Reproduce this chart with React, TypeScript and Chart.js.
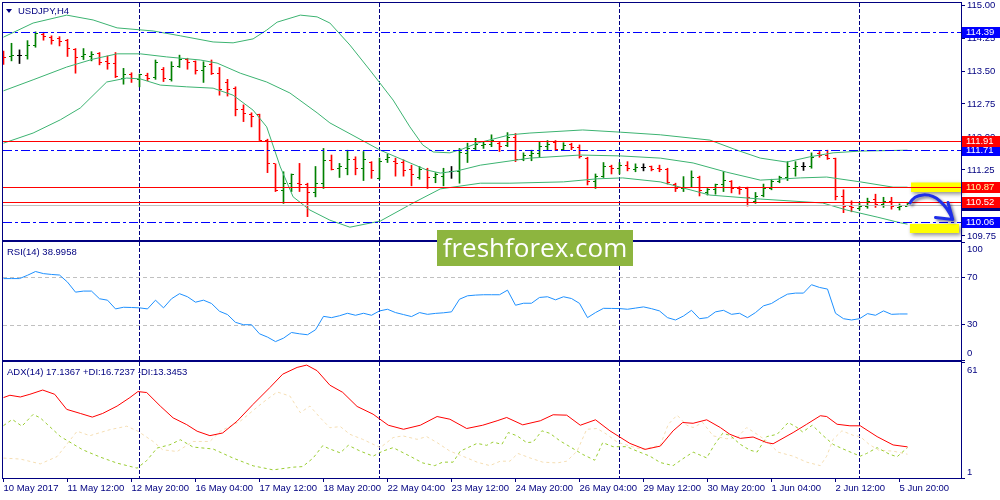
import React, { useEffect, useRef } from 'react';
import { Chart, registerables } from 'chart.js';

Chart.register(...registerables);

// ---------------- data ----------------
const opens = [
  113.83, 113.84, 113.86, 113.86, 114.07, 114.32, 114.26, 114.24, 114.2, 113.98,
  113.83, 113.84, 113.89, 113.71, 113.66, 113.33, 113.41, 113.31, 113.39, 113.36,
  113.54, 113.31, 113.6, 113.77, 113.71, 113.51, 113.64, 113.45, 113.23, 113.11,
  112.63, 112.52, 112.5, 111.93, 111.39, 110.78, 110.95, 110.95, 110.91, 110.73,
  110.95, 111.46, 111.29, 111.29, 111.49, 111.29, 111.42, 111.06, 111.48, 111.44,
  111.42, 111.25, 111.08, 111.25, 111.08, 111.11, 111.21, 111.21, 111.63, 111.74,
  111.8, 111.82, 111.86, 111.8, 111.99, 111.49, 111.59, 111.63, 111.78, 111.87,
  111.72, 111.82, 111.77, 111.52, 110.99, 111.11, 111.34, 111.29, 111.36, 111.27,
  111.31, 111.33, 111.29, 111.25, 110.93, 110.83, 110.86, 111.08, 110.74, 110.81,
  110.91, 110.99, 110.83, 110.83, 110.53, 110.68, 110.83, 110.99, 111.08, 111.29,
  111.33, 111.33, 111.63, 111.57, 111.52, 110.64, 110.43, 110.38, 110.43, 110.57,
  110.46, 110.53, 110.4, 110.43,
];
const highs = [
  113.95, 114.13, 113.98, 114.19, 114.39, 114.38, 114.3, 114.28, 114.22, 114.01,
  114.01, 113.94, 113.92, 113.84, 113.92, 113.56, 113.46, 113.43, 113.45, 113.75,
  113.58, 113.71, 113.86, 113.79, 113.73, 113.71, 113.75, 113.58, 113.31, 113.14,
  112.73, 112.55, 112.52, 111.95, 111.39, 111.21, 111.16, 111.4, 110.95, 111.33,
  111.74, 111.59, 111.4, 111.7, 111.55, 111.67, 111.44, 111.52, 111.61, 111.52,
  111.48, 111.36, 111.33, 111.29, 111.19, 111.29, 111.33, 111.74, 111.86, 111.97,
  111.89, 112.05, 111.89, 112.1, 112.08, 111.64, 111.7, 111.89, 111.92, 111.92,
  111.87, 111.86, 111.82, 111.54, 111.16, 111.42, 111.36, 111.42, 111.44, 111.39,
  111.39, 111.34, 111.36, 111.29, 110.95, 111.1, 111.23, 111.11, 110.83, 110.93,
  111.21, 111.01, 110.87, 110.86, 110.74, 110.93, 111.04, 111.11, 111.44, 111.44,
  111.42, 111.64, 111.67, 111.7, 111.52, 110.8, 110.55, 110.49, 110.61, 110.7,
  110.63, 110.63, 110.48, 110.49,
];
const lows = [
  113.65, 113.73, 113.67, 113.77, 114.04, 114.2, 114.11, 114.07, 113.83, 113.45,
  113.76, 113.73, 113.64, 113.54, 113.35, 113.2, 113.24, 113.14, 113.28, 113.31,
  113.26, 113.27, 113.58, 113.54, 113.43, 113.24, 113.42, 112.95, 112.93, 112.48,
  112.35, 112.23, 111.92, 111.19, 110.76, 110.49, 110.76, 110.76, 110.19, 110.64,
  110.83, 111.25, 111.08, 111.14, 111.14, 111.01, 111.06, 111.04, 111.42, 111.11,
  111.11, 110.89, 111.04, 110.83, 110.96, 110.89, 111.06, 110.95, 111.42, 111.69,
  111.74, 111.78, 111.67, 111.78, 111.44, 111.46, 111.46, 111.55, 111.71, 111.69,
  111.69, 111.71, 111.52, 110.91, 110.83, 111.08, 111.16, 111.16, 111.23, 111.21,
  111.23, 111.23, 111.21, 110.93, 110.76, 110.76, 110.86, 110.66, 110.68, 110.7,
  110.76, 110.73, 110.7, 110.43, 110.49, 110.64, 110.8, 110.96, 111.01, 111.11,
  111.24, 111.29, 111.54, 111.49, 110.57, 110.28, 110.3, 110.34, 110.38, 110.4,
  110.4, 110.36, 110.34, 110.43,
];
const closes = [
  113.8, 113.86, 113.86, 114.07, 114.36, 114.28, 114.2, 114.18, 114.01, 113.81,
  113.88, 113.88, 113.69, 113.66, 113.37, 113.43, 113.33, 113.41, 113.33, 113.69,
  113.33, 113.6, 113.77, 113.69, 113.52, 113.61, 113.45, 113.09, 113.07, 112.63,
  112.54, 112.46, 111.93, 111.39, 110.78, 110.95, 111.14, 110.91, 110.73, 110.95,
  111.46, 111.27, 111.34, 111.49, 111.29, 111.48, 111.23, 111.45, 111.54, 111.4,
  111.23, 111.14, 111.27, 111.08, 111.14, 111.19, 111.21, 111.64, 111.74, 111.84,
  111.84, 111.92, 111.78, 111.99, 111.48, 111.59, 111.63, 111.78, 111.84, 111.72,
  111.8, 111.77, 111.55, 110.99, 111.11, 111.34, 111.29, 111.36, 111.29, 111.31,
  111.31, 111.27, 111.25, 110.96, 110.83, 110.86, 111.08, 110.78, 110.81, 110.91,
  111.02, 110.83, 110.8, 110.63, 110.64, 110.83, 110.99, 111.08, 111.33, 111.33,
  111.33, 111.54, 111.57, 111.52, 110.64, 110.42, 110.4, 110.43, 110.53, 110.46,
  110.53, 110.43, 110.43, 110.48,
];

// Bollinger bands: [bar index, price]
const bbUpper: [number, number][] = [
  [0, 114.27], [3.7, 114.59], [7.9, 114.77], [11.2, 114.66], [14.2, 114.48], [18.7, 114.41],
  [22.1, 114.3], [26.2, 114.16], [28.7, 114.14], [31.2, 114.23], [32.9, 114.43], [34.2, 114.61],
  [37.1, 114.77], [39.2, 114.73], [40.8, 114.59], [43.3, 114.09], [45.8, 113.52], [48.7, 112.84],
  [50.8, 112.23], [52.4, 111.82], [53.7, 111.66], [55.8, 111.64], [57.4, 111.73], [59.2, 111.86],
  [63.3, 112.05], [65.8, 112.09], [72.4, 112.16], [77.1, 112.11], [82.1, 112.05], [88.3, 111.93],
  [91.7, 111.7], [94.6, 111.52], [97.9, 111.43], [100.8, 111.55], [103.7, 111.64], [107.1, 111.68],
  [113, 111.7],
];
const bbMiddle: [number, number][] = [
  [0, 113.05], [3.7, 113.3], [7.9, 113.59], [11.2, 113.77], [14.2, 113.89], [17.1, 113.89],
  [20.4, 113.82], [24.6, 113.75], [26.7, 113.68], [29.6, 113.45], [32.9, 113.25], [35.8, 113.0],
  [39.2, 112.55], [40.8, 112.32], [47.1, 111.7], [52.9, 111.25], [54.6, 111.18], [56.7, 111.23],
  [59.6, 111.36], [65.8, 111.52], [72.1, 111.59], [77.1, 111.57], [82.1, 111.52], [86.2, 111.41],
  [90.4, 111.2], [94.6, 111.02], [99.6, 111.07], [102.9, 111.09], [107.1, 110.98], [111.2, 110.86],
  [113, 110.86],
];
const bbLower: [number, number][] = [
  [0, 111.86], [3.7, 112.09], [7.1, 112.39], [9.6, 112.66], [12.9, 113.25], [15.4, 113.34],
  [17.1, 113.32], [19.6, 113.18], [22.9, 113.14], [26.2, 113.11], [28.7, 112.95], [31.2, 112.61],
  [32.9, 112.23], [34.6, 111.32], [36.2, 110.64], [38.3, 110.34], [40.8, 110.11], [43.3, 109.95],
  [47.1, 110.09], [51.2, 110.5], [54.6, 110.82], [59.6, 110.95], [63.3, 110.95], [70, 110.98],
  [74.2, 111.05], [77.4, 111.07], [82.1, 110.98], [88.3, 110.68], [94.6, 110.59], [102.4, 110.5],
  [105.4, 110.34], [109.2, 110.18], [112.1, 110.05], [113, 110.02],
];

const rsiValues = [
  69, 69, 69, 71.8, 75, 73.2, 72.5, 72, 66, 57.5,
  58.4, 58.4, 51.9, 50.7, 43.3, 44.7, 44.5, 44.2, 43.3, 50.7,
  44.2, 51.9, 56.2, 53.6, 49, 50.7, 47.9, 41.3, 38.5, 31.9,
  29.9, 29.9, 22.2, 19.4, 15.6, 18.5, 23.3, 22.2, 21.4, 25.6,
  37, 35.9, 37.5, 39.6, 37.9, 39.6, 37.9, 41.6, 43, 40.2,
  38.5, 36.8, 40.2, 38.7, 39.5, 40, 40.8, 51.5, 54.4, 55,
  55.3, 55.3, 55.3, 59.2, 46.4, 48.1, 48.1, 53, 53.6, 51,
  53.6, 52.1, 48, 35.9, 40.2, 43.8, 43.7, 43.6, 43, 44,
  45, 43.5, 41.6, 35.9, 33.9, 37.3, 42.1, 35, 35.9, 40.8,
  42.1, 38.7, 39.6, 35.9, 40.2, 45.9, 47.9, 52.1, 55.8, 56.7,
  56.7, 63.8, 61.5, 60.1, 39.6, 35, 33.9, 35, 39.3, 37.9,
  41.6, 38.7, 39, 39,
];

const adxPts: [number, number][] = [
  [0, 42.6], [0.8, 43.8], [2.1, 42.9], [3.3, 44.3], [4.9, 46.5], [6.4, 44.3], [7.9, 36.5], [9.6, 34.4],
  [11.1, 32.5], [12.4, 34.4], [14.2, 38.2], [15.8, 42.6], [16.8, 45.7], [17.9, 45.2], [19.6, 38.2],
  [21.2, 32.1], [22.9, 28.6], [24.2, 25.2], [25.8, 22.9], [27.4, 24.3], [29.2, 30.4], [31.2, 39.1],
  [33.3, 47.8], [34.9, 54.7], [36.7, 58.2], [37.9, 59.4], [39.2, 56.5], [40.8, 49], [42.4, 45.3],
  [44.2, 38], [46.2, 34], [48.1, 28.3], [50, 26.2], [52.1, 28.3], [54.2, 32.8], [55.8, 31.4],
  [57.9, 26.6], [59.9, 28.3], [61.7, 30.6], [62.9, 32.3], [64.9, 28.5], [67.1, 30.6], [68.7, 33.7],
  [70.4, 33.5], [72.1, 28.3], [74, 31.1], [75.8, 25.4], [78.3, 18.9], [80.2, 15.8], [82.1, 17.5],
  [83.7, 25.4], [84.9, 29.7], [86.2, 29.3], [87.9, 31.1], [89.6, 27.1], [90.8, 23.6], [92.1, 21.5],
  [93.7, 22.2], [95.4, 19.3], [96.2, 18.7], [98.7, 24.5], [100.4, 28.8], [102.1, 33.2], [102.9, 32.8],
  [104.2, 28.8], [105.8, 28], [107.1, 28], [109.2, 22.4], [111.2, 18.1], [113, 17.1],
];
const plusDiPts: [number, number][] = [
  [0, 28.1], [1.1, 31.3], [2.3, 27.8], [3.7, 33.9], [4.6, 32.1], [7.1, 22.5], [9.9, 15.6], [12.1, 11.8],
  [14.2, 8.7], [16.7, 6.1], [17.9, 10], [19.2, 16.5], [20.8, 18.2], [22.1, 20.8], [23.7, 17], [26.2, 16],
  [28.7, 11.3], [31.2, 7.3], [33.7, 5.2], [36.2, 6.6], [37.4, 6.9], [38.7, 11.3], [39.9, 17.7], [40.8, 16],
  [42.1, 14], [43.1, 17.9], [44.6, 14.9], [46.2, 12.3], [47.4, 14.9], [48.7, 16.7], [50.8, 12.3],
  [52.4, 8.8], [53.9, 7.4], [54.9, 9.2], [56.2, 9.2], [57.1, 14.9], [59.2, 18.9], [60.4, 17.9],
  [61.2, 19.6], [62.3, 18.4], [63.1, 24.5], [64.2, 22.8], [65.4, 19.3], [66.2, 19.6], [67.3, 25.4],
  [68.3, 24.1], [69.6, 20.1], [70.8, 17.2], [72.4, 13.2], [73.9, 10.2], [74.9, 19.3], [76.2, 17.2],
  [77.9, 17.2], [79.2, 14.9], [80.8, 12.3], [82.1, 9], [83.7, 7.4], [84.9, 10.9], [86.2, 14.4],
  [87.9, 11.4], [88.9, 18.4], [89.9, 24.1], [90.8, 23.1], [92.1, 18.4], [93.3, 15.4], [94.2, 14.4],
  [95.4, 22.4], [96.7, 23.6], [98.1, 29.7], [99.2, 27.1], [99.9, 24.8], [101.1, 28.3], [102.4, 23.1],
  [103.7, 18.4], [104.9, 16.1], [106.1, 14], [107.1, 12.3], [107.9, 13.7], [109.2, 16.7], [110.8, 13.2],
  [111.7, 12], [113, 16.7],
];
const minusDiPts: [number, number][] = [
  [0, 11.3], [2.1, 10.8], [4.6, 8.3], [6.7, 12.1], [9.2, 25.2], [10.8, 22.9], [13.3, 26], [15.4, 27.8],
  [16.8, 25.2], [18.7, 19.9], [19.9, 15.6], [21.7, 14.7], [23.7, 19.9], [25.8, 19.9], [27.1, 25.2],
  [29.6, 30.4], [32.4, 40], [34.2, 45.5], [35.8, 43.4], [37.1, 34.8], [38.3, 38.2], [39.6, 32.1],
  [40.8, 27], [42.1, 27.6], [43.3, 23.6], [44.9, 21], [47.1, 16.7], [48.7, 21.9], [49.9, 22.8],
  [51.7, 21], [52.9, 22.4], [54.2, 19.3], [55.8, 14.9], [57.4, 12.3], [59.2, 9.2], [60.8, 7.4],
  [62.1, 9.7], [63.3, 9.7], [64.3, 13.7], [65.8, 11.4], [67.4, 9.2], [69.2, 8.8], [70.4, 9.7],
  [71.7, 14.9], [72.9, 26.2], [74.2, 26.6], [75.4, 23.6], [76.7, 19.6], [78.3, 17.5], [79.9, 15.8],
  [82.1, 18], [83.1, 28.8], [84.2, 33.5], [85.4, 28.3], [86.2, 27.1], [87.4, 29.7], [88.7, 22.8],
  [90.4, 21.3], [91.7, 21.9], [92.9, 27.1], [94.2, 23.6], [95.4, 20.1], [96.8, 14.4], [98.7, 12.3],
  [100.4, 9.2], [102.1, 7.4], [102.9, 12.3], [103.7, 21], [104.8, 25.4], [106.2, 23.1], [107.1, 22.4],
  [108.2, 18.4], [109.4, 15.4], [111.2, 14.9], [113, 13.3],
];

const xTickBars = [0, 8, 16, 24, 32, 40, 48, 56, 64, 72, 80, 88, 96, 104, 112];
const xTickLabels = [
  '10 May 2017', '11 May 12:00', '12 May 20:00', '16 May 04:00', '17 May 12:00',
  '18 May 20:00', '22 May 04:00', '23 May 12:00', '24 May 20:00', '26 May 04:00',
  '29 May 12:00', '30 May 20:00', '1 Jun 04:00', '2 Jun 12:00', '5 Jun 20:00',
];
const priceTicks = [109.75, 110.5, 111.25, 112.0, 112.75, 113.5, 114.25, 115.0];
const rsiTicks = [0, 30, 70, 100];
const rsiLevels = [30, 70];
const adxTicks = [1, 61];
const vLineBars = [17, 47, 77, 107];

const blueLevels = [114.39, 111.71, 110.06];
const redLevels = [111.91, 110.87, 110.52];
const bidPrice = 110.45;

// ---------------- styling ----------------
const X_MIN = -0.0625;
const X_MAX = 119.6875;
const NAVY = '#000080';
const UP = '#008000';
const DOWN = '#FF0000';
const DOJI = '#000000';
const FONT_FAMILY = '"Liberation Sans", Arial, sans-serif';
const AX_FONT = { family: FONT_FAMILY, size: 9.5 };
const CTX_FONT = '9.5px "Liberation Sans", Arial, sans-serif';

function colorKey(i: number): string {
  return closes[i] > opens[i] ? UP : closes[i] < opens[i] ? DOWN : DOJI;
}

function tickImage(color: string, side: 'open' | 'close'): HTMLCanvasElement {
  const c = document.createElement('canvas');
  c.width = 5;
  c.height = 1;
  const g = c.getContext('2d') as CanvasRenderingContext2D;
  g.fillStyle = color;
  if (side === 'open') g.fillRect(0, 0, 2, 1);
  else g.fillRect(3, 0, 2, 1);
  return c;
}

function makeX(show: boolean): any {
  return {
    type: 'linear',
    min: X_MIN,
    max: X_MAX,
    bounds: 'data',
    offset: false,
    display: show,
    afterBuildTicks: (s: any) => {
      s.ticks = xTickBars.map((v) => ({ value: v }));
    },
    afterFit: (s: any) => {
      if (show) s.height = 22;
      s.paddingLeft = 0;
      s.paddingRight = 0;
    },
    ticks: {
      autoSkip: false,
      maxRotation: 0,
      minRotation: 0,
      align: 'start',
      padding: 1,
      color: NAVY,
      font: AX_FONT,
      callback: (_v: any, i: number) => xTickLabels[i],
    },
    grid: { drawOnChartArea: false, drawTicks: true, tickLength: 4, color: NAVY, lineWidth: 1 },
    border: { display: false },
  };
}

function makeY(min: number, max: number, ticks: number[], fmt: (v: number) => string): any {
  return {
    type: 'linear',
    position: 'right',
    min,
    max,
    bounds: 'data',
    afterBuildTicks: (s: any) => {
      s.ticks = ticks.map((v) => ({ value: v }));
    },
    afterFit: (s: any) => {
      s.width = 39;
      s.paddingTop = 0;
      s.paddingBottom = 0;
    },
    ticks: { autoSkip: false, padding: 2, color: NAVY, font: AX_FONT, callback: (v: any) => fmt(Number(v)) },
    grid: { drawOnChartArea: false, drawTicks: true, tickLength: 4, color: NAVY, lineWidth: 1 },
    border: { display: false },
  };
}

function framePlugin(id: string): any {
  return {
    id,
    beforeDatasetsDraw(chart: any) {
      const { ctx, chartArea: a, scales } = chart;
      ctx.save();
      ctx.strokeStyle = NAVY;
      ctx.lineWidth = 1;
      ctx.setLineDash([4, 2]);
      for (const b of vLineBars) {
        const x = Math.floor(scales.x.getPixelForValue(b)) + 0.5;
        ctx.beginPath();
        ctx.moveTo(x, a.top);
        ctx.lineTo(x, a.bottom);
        ctx.stroke();
      }
      ctx.restore();
      ctx.imageSmoothingEnabled = false;
    },
    afterDraw(chart: any) {
      const { ctx, chartArea: a } = chart;
      ctx.save();
      ctx.strokeStyle = NAVY;
      ctx.lineWidth = 1;
      ctx.setLineDash([]);
      ctx.strokeRect(a.left - 0.5, a.top - 0.5, a.right - a.left + 1, a.bottom - a.top + 1);
      ctx.restore();
    },
  };
}

function edgeLabelPlugin(id: string, items: [number, string, number][]): any {
  return {
    id,
    afterDraw(chart: any) {
      const { ctx, scales } = chart;
      const y = scales.y;
      ctx.save();
      ctx.font = CTX_FONT;
      ctx.fillStyle = NAVY;
      ctx.textBaseline = 'middle';
      ctx.textAlign = 'left';
      for (const [v, t, off] of items) {
        ctx.fillText(t, y.left + 6, y.getPixelForValue(v) + off);
      }
      ctx.restore();
    },
  };
}

const rsiLevelPlugin: any = {
  id: 'rsiLevels',
  beforeDatasetsDraw(chart: any) {
    const { ctx, chartArea: a, scales } = chart;
    ctx.save();
    ctx.strokeStyle = '#C0C0C0';
    ctx.lineWidth = 1;
    ctx.setLineDash([4, 3]);
    for (const l of rsiLevels) {
      const y = Math.round(scales.y.getPixelForValue(l)) + 0.5;
      ctx.beginPath();
      ctx.moveTo(a.left, y);
      ctx.lineTo(a.right, y);
      ctx.stroke();
    }
    ctx.restore();
  },
};

const mainOverlay: any = {
  id: 'mainOverlay',
  afterDatasetsDraw(chart: any) {
    const { ctx, chartArea: a, scales } = chart;
    const xs = scales.x;
    const ys = scales.y;
    const P = (b: number, p: number): [number, number] => [xs.getPixelForValue(b), ys.getPixelForValue(p)];
    // yellow highlight boxes
    ctx.save();
    ctx.shadowColor = 'rgba(0,0,0,0.45)';
    ctx.shadowBlur = 4;
    ctx.shadowOffsetX = 2;
    ctx.shadowOffsetY = 2;
    ctx.fillStyle = '#FFFF00';
    const boxes: [number, number, number, number][] = [
      [113.44, 119.7, 110.966, 110.75],
      [113.3, 119.44, 110.023, 109.818],
    ];
    for (const [b0, b1, p0, p1] of boxes) {
      const [x0, y0] = P(b0, p0);
      const [x1, y1] = P(b1, p1);
      ctx.fillRect(x0, y0, x1 - x0, y1 - y0);
    }
    ctx.restore();
    // level lines
    ctx.save();
    ctx.lineWidth = 1;
    ctx.shadowColor = 'rgba(0,0,0,0)';
    ctx.strokeStyle = '#C0C0C0';
    let y = Math.round(ys.getPixelForValue(bidPrice)) + 0.5;
    ctx.beginPath();
    ctx.moveTo(a.left, y);
    ctx.lineTo(a.right, y);
    ctx.stroke();
    ctx.strokeStyle = '#0000FF';
    ctx.setLineDash([9, 3, 3, 3]);
    for (const l of blueLevels) {
      y = Math.round(ys.getPixelForValue(l)) + 0.5;
      ctx.beginPath();
      ctx.moveTo(a.left, y);
      ctx.lineTo(a.right, y);
      ctx.stroke();
    }
    ctx.setLineDash([]);
    ctx.strokeStyle = '#FF0000';
    for (const l of redLevels) {
      y = Math.round(ys.getPixelForValue(l)) + 0.5;
      ctx.beginPath();
      ctx.moveTo(a.left, y);
      ctx.lineTo(a.right, y);
      ctx.stroke();
    }
    ctx.restore();
    // blue arrow
    ctx.save();
    ctx.shadowColor = 'rgba(0,0,40,0.5)';
    ctx.shadowBlur = 3;
    ctx.shadowOffsetX = 2;
    ctx.shadowOffsetY = 2;
    ctx.strokeStyle = '#1F2FE8';
    ctx.lineWidth = 3;
    ctx.lineCap = 'round';
    ctx.lineJoin = 'round';
    const s = P(113.31, 110.5);
    const c1 = P(113.94, 110.727);
    const c2 = P(115.81, 110.75);
    const m = P(117.06, 110.545);
    const q = P(118.06, 110.386);
    const tip = P(118.65, 110.125);
    const b1 = P(116.5, 110.17);
    const b2 = P(118.06, 110.511);
    ctx.beginPath();
    ctx.moveTo(s[0], s[1]);
    ctx.bezierCurveTo(c1[0], c1[1], c2[0], c2[1], m[0], m[1]);
    ctx.quadraticCurveTo(q[0], q[1], tip[0], tip[1]);
    ctx.moveTo(b1[0], b1[1]);
    ctx.lineTo(tip[0], tip[1]);
    ctx.lineTo(b2[0], b2[1]);
    ctx.stroke();
    ctx.restore();
  },
  afterDraw(chart: any) {
    const { ctx, chartArea: a, scales } = chart;
    const ys = scales.y;
    ctx.save();
    ctx.font = CTX_FONT;
    ctx.textBaseline = 'middle';
    ctx.textAlign = 'left';
    const drawLabel = (p: number, bg: string, fg: string) => {
      const y = Math.round(ys.getPixelForValue(p));
      ctx.fillStyle = bg;
      ctx.fillRect(a.right + 1, y - 5, 1000 - a.right - 1, 11);
      ctx.fillStyle = fg;
      ctx.fillText(p.toFixed(2), a.right + 5, y + 0.5);
    };
    drawLabel(bidPrice, '#000080', '#FFFFFF');
    for (const l of blueLevels) drawLabel(l, '#0000FF', '#FFFFFF');
    for (const l of redLevels) drawLabel(l, '#FF0000', l === 110.87 ? '#FFFFA0' : '#FFFFFF');
    ctx.restore();
  },
};

const baseOptions = (pad: any): any => ({
  responsive: false,
  animation: false,
  events: [],
  devicePixelRatio: 1,
  layout: { padding: pad },
  plugins: { legend: { display: false }, tooltip: { enabled: false } },
});

export default function App() {
  const mainRef = useRef<HTMLCanvasElement>(null);
  const rsiRef = useRef<HTMLCanvasElement>(null);
  const adxRef = useRef<HTMLCanvasElement>(null);

  useEffect(() => {
    const charts: Chart[] = [];
    const openImgs: Record<string, HTMLCanvasElement> = {};
    const closeImgs: Record<string, HTMLCanvasElement> = {};
    for (const c of [UP, DOWN, DOJI]) {
      openImgs[c] = tickImage(c, 'open');
      closeImgs[c] = tickImage(c, 'close');
    }
    const toXY = (arr: [number, number][]) => arr.map(([x, y]) => ({ x, y }));
    const bbLine = (arr: [number, number][]) => ({
      type: 'line',
      data: toXY(arr),
      borderColor: '#3CB371',
      borderWidth: 1,
      pointRadius: 0,
      tension: 0,
      fill: false,
    });

    if (mainRef.current) {
      charts.push(
        new Chart(mainRef.current, {
          type: 'line',
          data: {
            datasets: [
              bbLine(bbUpper),
              bbLine(bbMiddle),
              bbLine(bbLower),
              {
                type: 'line',
                showLine: false,
                data: opens.map((o, i) => ({ x: i, y: o })),
                pointStyle: opens.map((_, i) => openImgs[colorKey(i)]),
                pointRadius: 1,
                pointHoverRadius: 1,
              },
              {
                type: 'line',
                showLine: false,
                data: closes.map((c, i) => ({ x: i, y: c })),
                pointStyle: closes.map((_, i) => closeImgs[colorKey(i)]),
                pointRadius: 1,
                pointHoverRadius: 1,
              },
              {
                type: 'bar',
                data: highs.map((h, i) => ({ x: i, y: [lows[i], h] })),
                backgroundColor: highs.map((_, i) => colorKey(i)),
                borderWidth: 0,
                barThickness: 1,
              },
            ] as any,
          },
          options: {
            ...baseOptions({ left: 3, top: 3, right: 0, bottom: 2 }),
            scales: {
              x: makeX(false),
              y: makeY(109.659, 115.0455, priceTicks, (v) => v.toFixed(2)),
            },
          },
          plugins: [framePlugin('frameMain'), mainOverlay],
        } as any),
      );
    }

    if (rsiRef.current) {
      charts.push(
        new Chart(rsiRef.current, {
          type: 'line',
          data: {
            datasets: [
              {
                data: rsiValues.map((v, i) => ({ x: i, y: v })),
                borderColor: '#1E90FF',
                borderWidth: 1,
                pointRadius: 0,
                tension: 0,
              },
            ] as any,
          },
          options: {
            ...baseOptions({ left: 3, top: 1, right: 0, bottom: 1 }),
            scales: {
              x: makeX(false),
              y: makeY(0, 100, rsiTicks, (v) => (v === 30 || v === 70 ? String(v) : '')),
            },
          },
          plugins: [
            framePlugin('frameRsi'),
            rsiLevelPlugin,
            edgeLabelPlugin('rsiEdge', [
              [100, '100', 7],
              [0, '0', -7],
            ]),
          ],
        } as any),
      );
    }

    if (adxRef.current) {
      charts.push(
        new Chart(adxRef.current, {
          type: 'line',
          data: {
            datasets: [
              {
                data: toXY(adxPts),
                borderColor: '#FF0000',
                borderWidth: 1,
                pointRadius: 0,
                tension: 0,
              },
              {
                data: toXY(plusDiPts),
                borderColor: '#9ACD32',
                borderWidth: 1,
                borderDash: [3, 3],
                pointRadius: 0,
                tension: 0,
              },
              {
                data: toXY(minusDiPts),
                borderColor: '#F5DEB3',
                borderWidth: 1,
                borderDash: [3, 3],
                pointRadius: 0,
                tension: 0,
              },
            ] as any,
          },
          options: {
            ...baseOptions({ left: 3, top: 2, right: 0, bottom: 0 }),
            scales: {
              x: makeX(true),
              y: makeY(1, 61, adxTicks, () => ''),
            },
          },
          plugins: [
            framePlugin('frameAdx'),
            edgeLabelPlugin('adxEdge', [
              [61, '61', 8],
              [1, '1', -6],
            ]),
          ],
        } as any),
      );
    }

    return () => {
      charts.forEach((c) => c.destroy());
    };
  }, []);

  const textStyle: React.CSSProperties = {
    position: 'absolute',
    fontFamily: FONT_FAMILY,
    fontSize: '9.5px',
    lineHeight: '11px',
    color: NAVY,
    whiteSpace: 'nowrap',
    zIndex: 2,
  };

  return (
    <div
      style={{
        position: 'fixed',
        left: 0,
        top: 0,
        width: 1000,
        height: 500,
        background: '#FFFFFF',
        overflow: 'hidden',
      }}
    >
      <canvas
        ref={mainRef}
        width={1000}
        height={242}
        style={{ position: 'absolute', left: 0, top: 0, width: 1000, height: 242 }}
      />
      <canvas
        ref={rsiRef}
        width={1000}
        height={120}
        style={{ position: 'absolute', left: 0, top: 241, width: 1000, height: 120 }}
      />
      <canvas
        ref={adxRef}
        width={1000}
        height={140}
        style={{ position: 'absolute', left: 0, top: 360, width: 1000, height: 140 }}
      />
      <div
        style={{
          position: 'absolute',
          left: 6,
          top: 9,
          width: 0,
          height: 0,
          borderLeft: '3px solid transparent',
          borderRight: '3px solid transparent',
          borderTop: '4px solid ' + NAVY,
          zIndex: 2,
        }}
      />
      <div style={{ ...textStyle, left: 18, top: 5 }}>USDJPY,H4</div>
      <div style={{ ...textStyle, left: 7, top: 246 }}>RSI(14) 38.9958</div>
      <div style={{ ...textStyle, left: 7, top: 366 }}>ADX(14) 17.1367 +DI:16.7237 -DI:13.3453</div>
      <div
        style={{
          position: 'absolute',
          left: 437,
          top: 230,
          width: 196,
          height: 36,
          background: '#8DB53F',
          color: '#FFFFFF',
          fontFamily: '"Open Sans", sans-serif',
          fontSize: '26px',
          lineHeight: '34px',
          textAlign: 'center',
          zIndex: 3,
        }}
      >
        freshforex.com
      </div>
    </div>
  );
}
